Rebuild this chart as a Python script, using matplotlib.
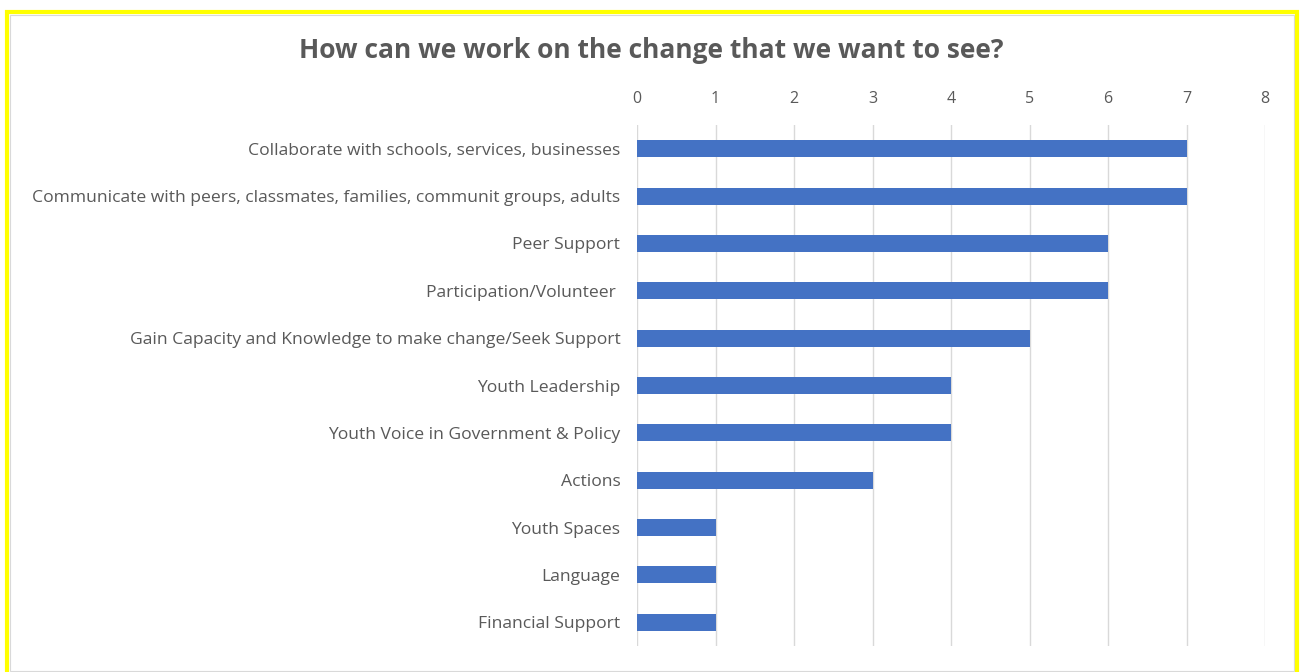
import matplotlib
matplotlib.use('Agg')
from matplotlib import pyplot as plt
from matplotlib.patches import Rectangle

categories = [
    'Collaborate with schools, services, businesses',
    'Communicate with peers, classmates, families, communit groups, adults',
    'Peer Support',
    'Participation/Volunteer ',
    'Gain Capacity and Knowledge to make change/Seek Support',
    'Youth Leadership',
    'Youth Voice in Government & Policy',
    'Actions',
    'Youth Spaces',
    'Language',
    'Financial Support',
]
counts = [7, 7, 6, 6, 5, 4, 4, 3, 1, 1, 1]
x_ticks = [0, 1, 2, 3, 4, 5, 6, 7, 8]

W, H = 1303, 672
fig = plt.figure(figsize=(W / 100, H / 100), dpi=100)
fig.patch.set_facecolor('white')

# yellow frame around the chart
frame = Rectangle((7 / W, -0.05), (1297 - 7) / W, 1.05 - 12 / H,
                  transform=fig.transFigure, fill=False,
                  edgecolor='#FFFF00', linewidth=3.0, zorder=10)
fig.patches.append(frame)
inner = Rectangle((10 / W, 1 / H), (1294 - 10) / W, 1 - 16 / H,
                  transform=fig.transFigure, fill=False,
                  edgecolor='#D9D9D9', linewidth=0.8, zorder=9)
fig.patches.append(inner)

ax = fig.add_axes([637 / W, 1 - 646 / H, (1265 - 637) / W, (646 - 125) / H])
ypos = list(range(len(categories)))
ax.barh(ypos, counts, height=0.36, color='#4472C4', zorder=3)

ax.set_xlim(0, 8)
ax.set_ylim(len(categories) - 0.5, -0.5)
ax.set_xticks(x_ticks)
ax.set_yticks(ypos)
ax.set_yticklabels(categories, fontfamily='Open Sans', fontsize=12.6, color='#595959')
ax.xaxis.tick_top()
ax.tick_params(axis='x', length=0, pad=13, labelsize=11.5, labelcolor='#595959')
ax.tick_params(axis='y', length=0, pad=12)
for lbl in ax.get_xticklabels():
    lbl.set_fontfamily('Open Sans')
ax.grid(axis='x', color='#D9D9D9', linewidth=1.0, zorder=0)
for s in ax.spines.values():
    s.set_visible(False)

fig.text(651 / W, 1 - 51 / H, 'How can we work on the change that we want to see?',
         ha='center', va='center', fontsize=19, fontweight='bold',
         fontfamily='Open Sans', color='#595959')

fig.savefig('out.png', dpi=100)
